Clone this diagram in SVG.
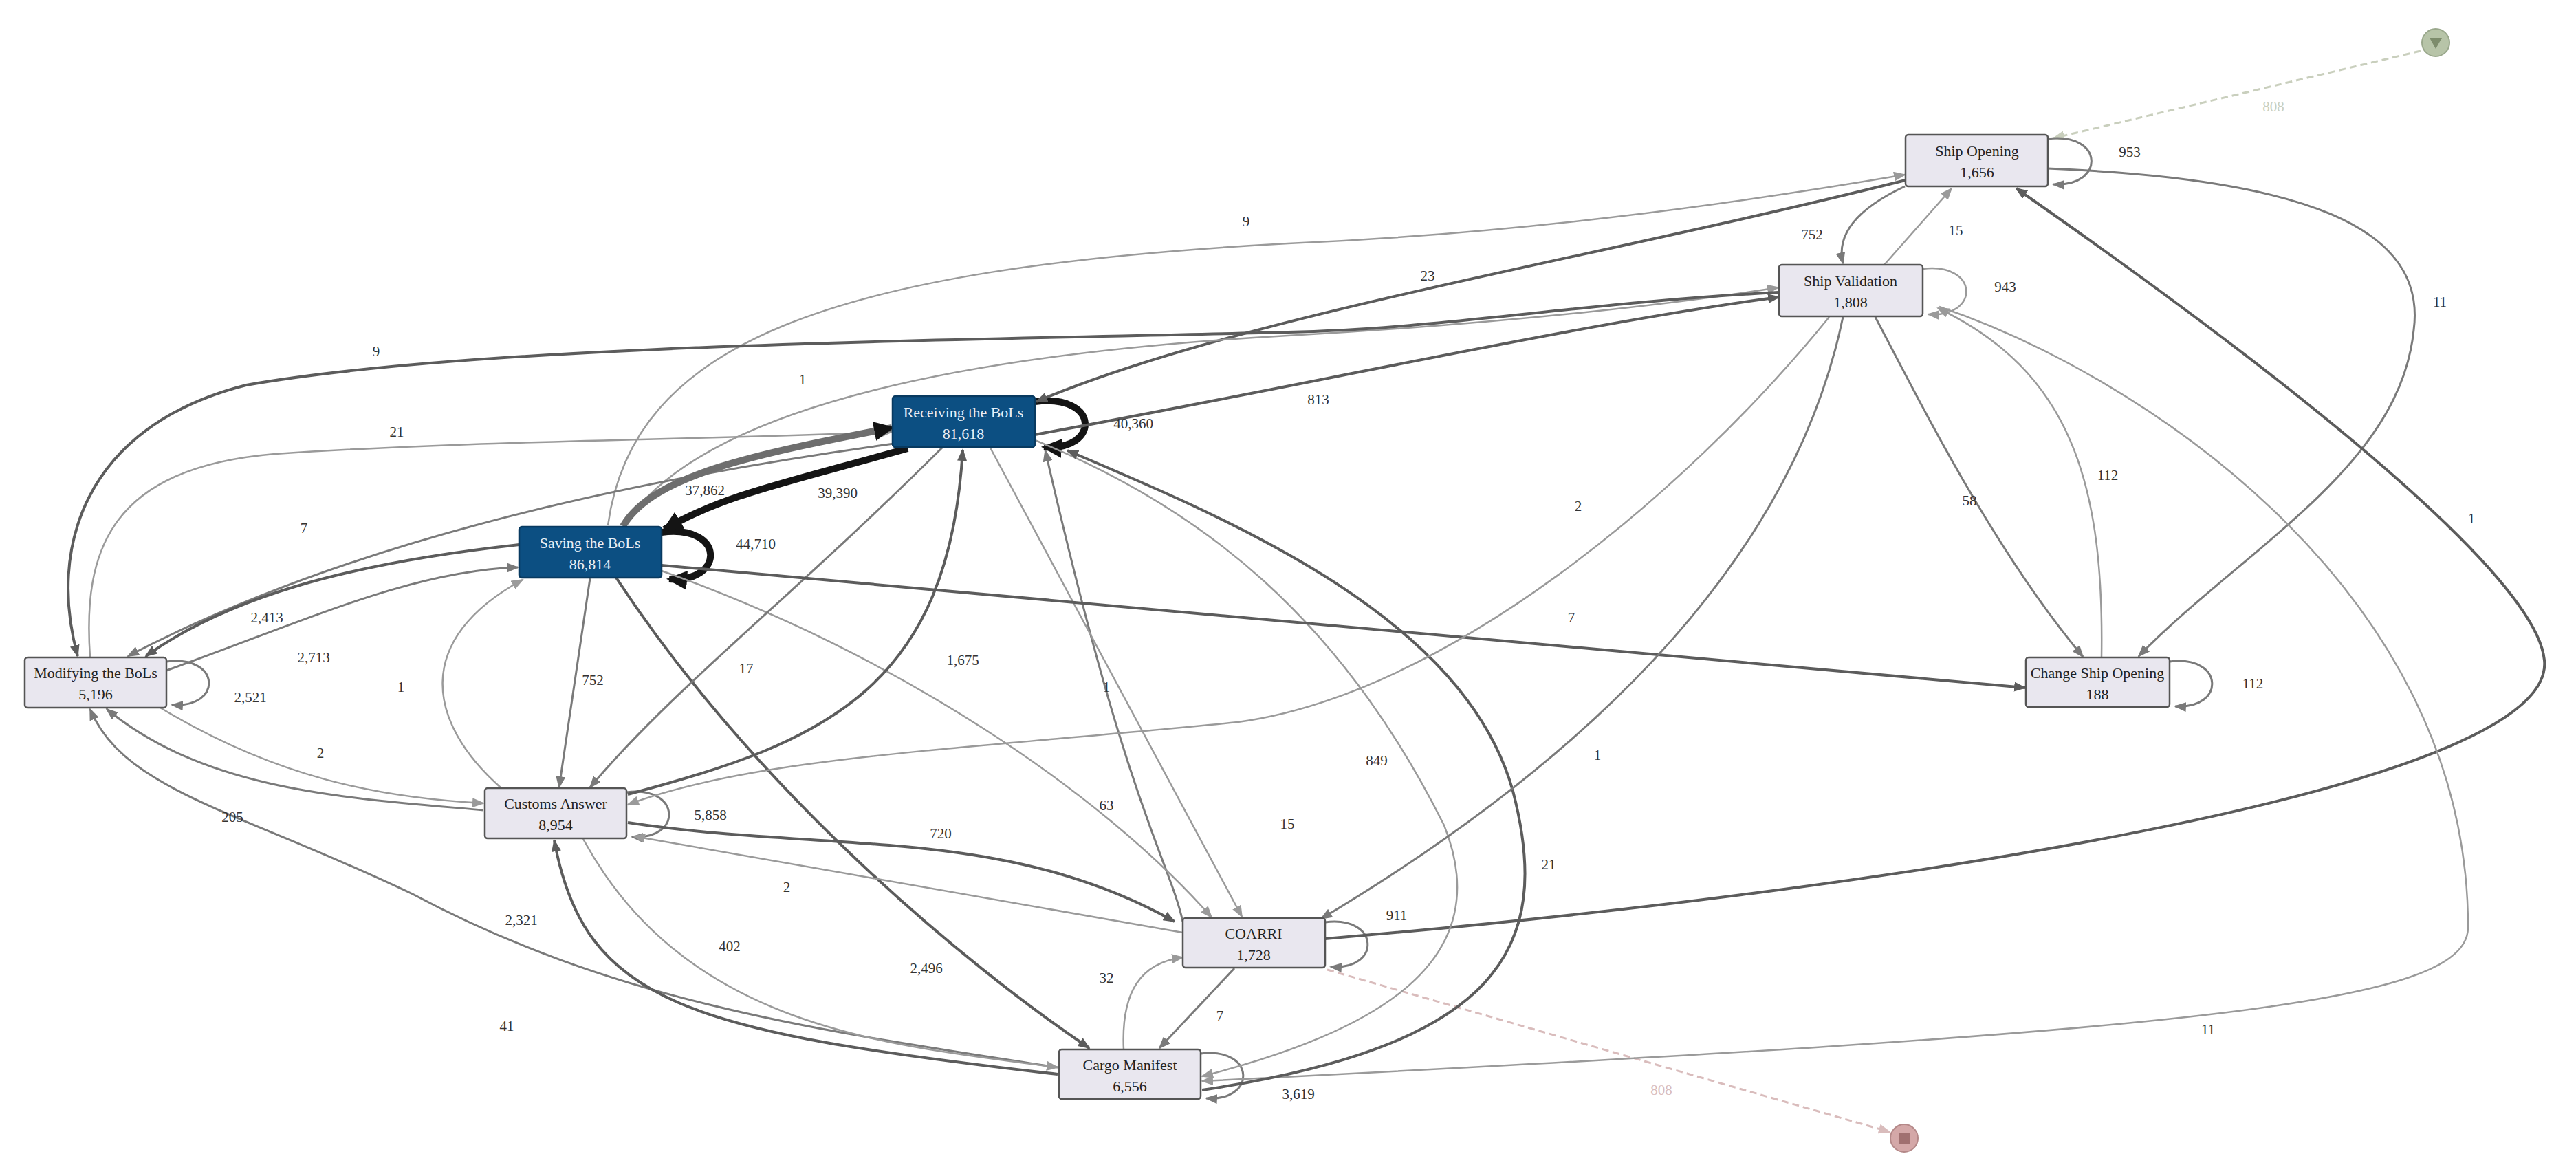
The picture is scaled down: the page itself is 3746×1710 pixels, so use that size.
<svg xmlns="http://www.w3.org/2000/svg" width="3746" height="1710" viewBox="0 0 3746 1710">
<style>
.bg{fill:#fff}
.n rect{fill:#e9e7ef;stroke:#555;stroke-width:2.5}
.n text{font-family:"Liberation Serif",serif;font-size:22px;fill:#222;text-anchor:middle}
.b rect{fill:#0c4f82;stroke:#083a60;stroke-width:2.5}
.b text{fill:#e8eef5}
.e{fill:none}
.d{stroke:#5c5c5c;stroke-width:4;marker-end:url(#md)}
.m{stroke:#7a7a7a;stroke-width:3;marker-end:url(#mm)}
.l{stroke:#9a9a9a;stroke-width:2.5;marker-end:url(#ml)}
.k{stroke:#141414;stroke-width:10;marker-end:url(#mk)}
.g{stroke:#6e6e6e;stroke-width:10;marker-end:url(#mk)}
.lb text{font-family:"Liberation Serif",serif;font-size:21px;fill:#333;text-anchor:middle}
</style>
<defs>
<marker id="md" markerUnits="userSpaceOnUse" markerWidth="18" markerHeight="14" refX="16" refY="7" orient="auto"><path d="M0,0 L18,7 L0,14 z" fill="#5c5c5c"/></marker>
<marker id="mm" markerUnits="userSpaceOnUse" markerWidth="18" markerHeight="14" refX="16" refY="7" orient="auto"><path d="M0,0 L18,7 L0,14 z" fill="#7a7a7a"/></marker>
<marker id="ml" markerUnits="userSpaceOnUse" markerWidth="18" markerHeight="14" refX="16" refY="7" orient="auto"><path d="M0,0 L18,7 L0,14 z" fill="#9a9a9a"/></marker>
<marker id="mk" markerUnits="userSpaceOnUse" markerWidth="30" markerHeight="28" refX="26" refY="14" orient="auto"><path d="M0,0 L30,14 L0,28 z" fill="#141414"/></marker>
<marker id="mg" markerUnits="userSpaceOnUse" markerWidth="18" markerHeight="14" refX="16" refY="7" orient="auto"><path d="M0,0 L18,7 L0,14 z" fill="#c9cfbd"/></marker>
<marker id="mp" markerUnits="userSpaceOnUse" markerWidth="18" markerHeight="14" refX="16" refY="7" orient="auto"><path d="M0,0 L18,7 L0,14 z" fill="#d9bcbc"/></marker>
</defs>
<rect class="bg" width="3746" height="1710"/>
<g id="connectors">
<path class="e" d="M3520,74 L2986,201" stroke="#c9cfbd" stroke-width="3" stroke-dasharray="10,6" marker-end="url(#mg)"/>
<path class="e" d="M1930,1410 L2748,1646" stroke="#d9bcbc" stroke-width="3" stroke-dasharray="10,6" marker-end="url(#mp)"/>
<path class="e m" d="M2978,202 C3060,192 3062,272 2986,268"/>
<path class="e l" d="M2796,391 C2878,381 2880,462 2804,457"/>
<path class="e k" d="M1505,584 C1600,572 1600,656 1518,650"/>
<path class="e k" d="M962,774 C1055,762 1055,848 973,842"/>
<path class="e m" d="M242,962 C322,952 324,1030 250,1025"/>
<path class="e m" d="M911,1152 C991,1142 993,1222 919,1217"/>
<path class="e m" d="M1927,1341 C2007,1331 2009,1411 1935,1406"/>
<path class="e m" d="M1746,1532 C1826,1522 1828,1602 1754,1597"/>
<path class="e m" d="M3155,962 C3235,952 3237,1032 3163,1027"/>
<path class="e m" d="M2770,271 Q2665,320 2680,383"/>
<path class="e l" d="M2740,385 L2838,274"/>
<path class="e m" d="M2978,245 C3350,260 3530,330 3510,480 C3490,680 3260,800 3110,954"/>
<path class="e d" d="M1927,1365 C2700,1300 3720,1150 3700,960 C3690,850 3400,600 2932,274"/>
<path class="e l" d="M2820,446 C3100,540 3590,850 3589,1350 C3585,1460 3200,1500 1748,1572"/>
<path class="e m" d="M1720,1340 C1700,1250 1640,1180 1520,655"/>
<path class="e l" d="M1440,651 L1806,1333"/>
<path class="e l" d="M962,830 C1300,950 1600,1150 1762,1334"/>
<path class="e l" d="M1505,640 C1750,740 1950,900 2100,1200 C2180,1400 2000,1500 1748,1565"/>
<path class="e d" d="M1748,1585 C2180,1520 2260,1380 2200,1150 C2130,900 1800,760 1552,655"/>
<path class="e d" d="M896,840 C1100,1150 1400,1400 1584,1524"/>
<path class="e m" d="M858,841 L813,1145"/>
<path class="e l" d="M729,1146 C620,1050 600,930 760,843"/>
<path class="e m" d="M1370,651 C1150,870 980,1000 858,1145"/>
<path class="e d" d="M913,1155 C1200,1080 1380,1000 1400,654"/>
<path class="e l" d="M233,1029 C400,1130 550,1160 703,1168"/>
<path class="e m" d="M703,1178 C500,1160 300,1150 155,1031"/>
<path class="e m" d="M1538,1552 C1200,1500 900,1460 600,1300 C350,1180 180,1150 131,1031"/>
<path class="e d" d="M1538,1562 C1000,1500 850,1460 806,1222"/>
<path class="e l" d="M848,1220 C1000,1500 1300,1520 1538,1552"/>
<path class="e d" d="M913,1196 C1200,1240 1460,1200 1708,1340"/>
<path class="e l" d="M1720,1356 L922,1216"/>
<path class="e l" d="M1634,1526 C1630,1440 1660,1400 1720,1392"/>
<path class="e m" d="M1795,1408 L1686,1524"/>
<path class="e d" d="M962,822 L2945,1000"/>
<path class="e m" d="M2727,461 C2800,600 2900,800 3029,955"/>
<path class="e l" d="M3056,956 C3060,700 3010,540 2818,448"/>
<path class="e l" d="M2660,461 C2450,720 2100,1010 1800,1050 C1400,1090 1100,1100 913,1170"/>
<path class="e m" d="M2680,461 C2620,750 2400,1050 1921,1336"/>
<path class="e d" d="M1505,632 C1900,560 2300,470 2587,432"/>
<path class="e d" d="M2771,262 C2300,380 1800,460 1507,584"/>
<path class="e l" d="M884,764 C920,500 1200,390 1873,354 C2200,340 2500,300 2770,254"/>
<path class="e l" d="M908,764 C1000,620 1300,520 1873,488 C2200,470 2450,440 2586,418"/>
<path class="e d" d="M2586,425 C2300,440 2100,478 1873,483 C1400,495 700,500 358,560 C120,620 70,800 113,954"/>
<path class="e l" d="M131,956 C120,800 160,680 400,660 C700,640 1000,640 1297,628"/>
<path class="e m" d="M1300,645 C900,700 500,790 186,954"/>
<path class="e d" d="M755,792 C500,820 330,870 212,954"/>
<path class="e m" d="M242,975 C450,900 600,830 753,825"/>
<path class="e g" d="M906,765 C950,690 1100,660 1297,622"/>
<path class="e k" d="M1320,652 C1150,700 1050,720 966,770"/>
</g>
<g id="edge-labels" class="lb">
<text x="3306" y="162" fill="#c9cfbd" style="fill:#c9cfbd">808</text>
<text x="2416" y="1592" style="fill:#d9bcbc">808</text>
<text x="3097" y="228">953</text>
<text x="2635" y="348">752</text>
<text x="2844" y="342">15</text>
<text x="2076" y="408">23</text>
<text x="2916" y="424">943</text>
<text x="3548" y="446">11</text>
<text x="1917" y="588">813</text>
<text x="2295" y="743">2</text>
<text x="2864" y="735">58</text>
<text x="3065" y="698">112</text>
<text x="3594" y="761">1</text>
<text x="1812" y="329">9</text>
<text x="547" y="518">9</text>
<text x="1167" y="559">1</text>
<text x="577" y="635">21</text>
<text x="1648" y="623">40,360</text>
<text x="1025" y="720">37,862</text>
<text x="1218" y="724">39,390</text>
<text x="442" y="775">7</text>
<text x="1099" y="798">44,710</text>
<text x="388" y="905">2,413</text>
<text x="456" y="963">2,713</text>
<text x="364" y="1021">2,521</text>
<text x="583" y="1006">1</text>
<text x="862" y="996">752</text>
<text x="1085" y="979">17</text>
<text x="1400" y="967">1,675</text>
<text x="1609" y="1006">1</text>
<text x="466" y="1102">2</text>
<text x="338" y="1195">205</text>
<text x="1033" y="1192">5,858</text>
<text x="1609" y="1178">63</text>
<text x="1368" y="1219">720</text>
<text x="1144" y="1297">2</text>
<text x="758" y="1345">2,321</text>
<text x="1061" y="1383">402</text>
<text x="1347" y="1415">2,496</text>
<text x="1609" y="1429">32</text>
<text x="1774" y="1484">7</text>
<text x="737" y="1499">41</text>
<text x="2285" y="905">7</text>
<text x="2002" y="1113">849</text>
<text x="2323" y="1105">1</text>
<text x="3276" y="1001">112</text>
<text x="1872" y="1205">15</text>
<text x="2252" y="1264">21</text>
<text x="2031" y="1338">911</text>
<text x="3211" y="1504">11</text>
<text x="1888" y="1598">3,619</text>
</g>
<g id="start"><circle cx="3542" cy="62" r="20" fill="#b7c4a8" stroke="#9aa88c" stroke-width="2"/><path d="M3533,55 L3551,55 L3542,71 z" fill="#7d8c6c"/></g>
<g id="end"><circle cx="2769" cy="1655" r="20" fill="#d4a8a8" stroke="#b48888" stroke-width="2"/><rect x="2761" y="1647" width="16" height="16" fill="#a07070"/></g>
<g id="ship-opening" class="n"><rect x="2771" y="196" width="207" height="75" rx="4"/><text x="2875" y="227">Ship Opening</text><text x="2875" y="258">1,656</text></g>
<g id="ship-validation" class="n"><rect x="2587" y="385" width="209" height="75" rx="4"/><text x="2691" y="416">Ship Validation</text><text x="2691" y="447">1,808</text></g>
<g id="receiving" class="n b"><rect x="1298" y="576" width="207" height="74" rx="4"/><text x="1401" y="607">Receiving the BoLs</text><text x="1401" y="638">81,618</text></g>
<g id="saving" class="n b"><rect x="755" y="766" width="207" height="74" rx="4"/><text x="858" y="797">Saving the BoLs</text><text x="858" y="828">86,814</text></g>
<g id="modifying" class="n"><rect x="36" y="956" width="206" height="73" rx="4"/><text x="139" y="986">Modifying the BoLs</text><text x="139" y="1017">5,196</text></g>
<g id="customs" class="n"><rect x="705" y="1146" width="206" height="73" rx="4"/><text x="808" y="1176">Customs Answer</text><text x="808" y="1207">8,954</text></g>
<g id="coarri" class="n"><rect x="1720" y="1335" width="207" height="72" rx="4"/><text x="1823" y="1365">COARRI</text><text x="1823" y="1396">1,728</text></g>
<g id="cargo" class="n"><rect x="1540" y="1526" width="206" height="72" rx="4"/><text x="1643" y="1556">Cargo Manifest</text><text x="1643" y="1587">6,556</text></g>
<g id="change-ship" class="n"><rect x="2946" y="956" width="209" height="72" rx="4"/><text x="3050" y="986">Change Ship Opening</text><text x="3050" y="1017">188</text></g>
</svg>
